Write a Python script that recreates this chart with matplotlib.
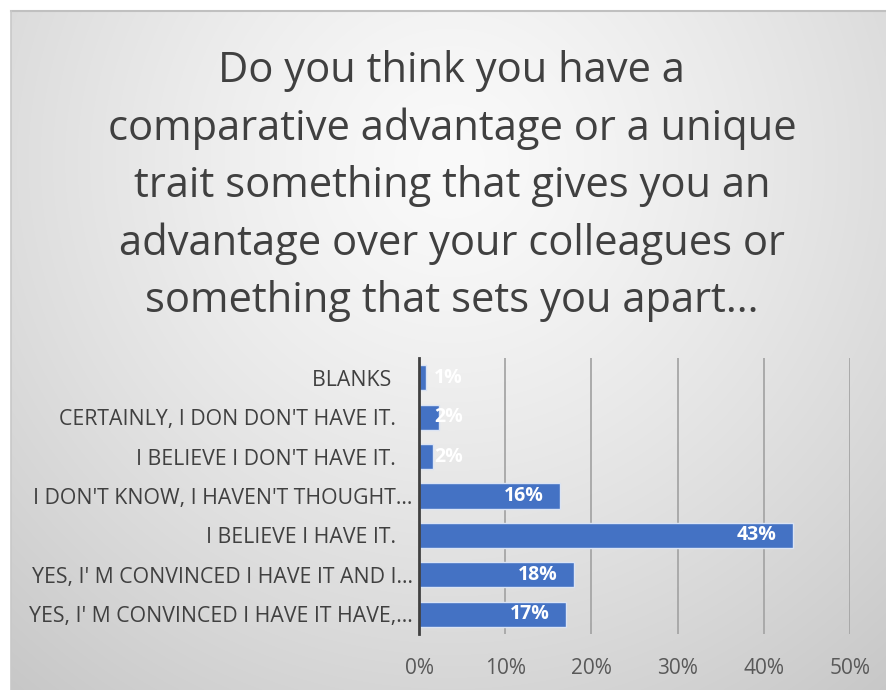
import numpy as np
import matplotlib
matplotlib.use('Agg')
import matplotlib.pyplot as plt

plt.rcParams['font.family'] = ['Open Sans', 'DejaVu Sans']

# Survey answers, listed top to bottom as shown
categories = [
    'BLANKS    ',
    "CERTAINLY, I DON DON'T HAVE IT.   ",
    "I BELIEVE I DON'T HAVE IT.   ",
    "I DON'T KNOW, I HAVEN'T THOUGHT...",
    'I BELIEVE I HAVE IT.   ',
    "YES, I' M CONVINCED I HAVE IT AND I...",
    "YES, I' M CONVINCED I HAVE IT HAVE,...",
]
shares = [0.8, 2.3, 1.6, 16.4, 43.4, 18.0, 17.1]   # percent of respondents
x_ticks = [0, 10, 20, 30, 40, 50]

title = ('Do you think you have a\n'
         'comparative advantage or a unique\n'
         'trait something that gives you an\n'
         'advantage over your colleagues or\n'
         'something that sets you apart...')

BAR = '#4472C4'
TEXT = '#404040'

W, H = 886, 690
fig = plt.figure(figsize=(W / 100, H / 100), dpi=100)
fig.patch.set_facecolor('white')

# grey radial backdrop, brightest behind the title
bg = fig.add_axes([11 / W, 0, 1 - 11 / W, 1 - 11 / H])
yy, xx = np.mgrid[0:679, 0:875]
d = np.hypot(xx - 440, yy - 150) / 700.0
shade = np.clip(250 - 52 * d ** 1.3, 0, 255) / 255.0
bg.imshow(np.dstack([shade] * 3), aspect='auto', interpolation='bilinear')
bg.set_axis_off()
fig.add_artist(plt.Line2D([11 / W, 1], [1 - 11 / H] * 2, color='#c0c0c0', lw=1.5))
fig.add_artist(plt.Line2D([11 / W] * 2, [0, 1 - 11 / H], color='#c8c8c8', lw=1.2))

fig.text(0.51, 1 - 186 / H, title, ha='center', va='center', fontsize=30,
         color=TEXT, linespacing=1.47)

ax = fig.add_axes([419 / W, 1 - 634 / H, 431 / W, 276 / H])
ax.patch.set_alpha(0)
y = np.arange(len(categories))
bars = ax.barh(y, shares, height=0.64, color=BAR, edgecolor='#dbe4f4',
               linewidth=1.0, zorder=3)

for b, v in zip(bars, shares):
    xr = max(v - 1.9, 5.1)
    ax.text(xr, b.get_y() + b.get_height() / 2, f'{v:.0f}%', ha='right',
            va='center', color='white', fontsize=14, fontweight='bold',
            zorder=4)

ax.set_ylim(len(categories) - 0.5, -0.5)
ax.set_xlim(0, 50)
ax.set_xticks(x_ticks)
ax.set_xticklabels([f'{t}%' for t in x_ticks])
ax.set_yticks(y)
ax.set_yticklabels(categories)
ax.tick_params(axis='y', length=0, pad=4.5, labelsize=15.3, labelcolor=TEXT)
ax.tick_params(axis='x', length=0, pad=17, labelsize=15, labelcolor='#595959')
ax.grid(axis='x', color='#a6a6a6', lw=1.3, zorder=0)
for s in ('top', 'right', 'bottom'):
    ax.spines[s].set_visible(False)
ax.spines['left'].set_color('#404040')
ax.spines['left'].set_linewidth(2.0)
ax.spines['left'].set_zorder(5)

fig.savefig('out.png', dpi=100)
